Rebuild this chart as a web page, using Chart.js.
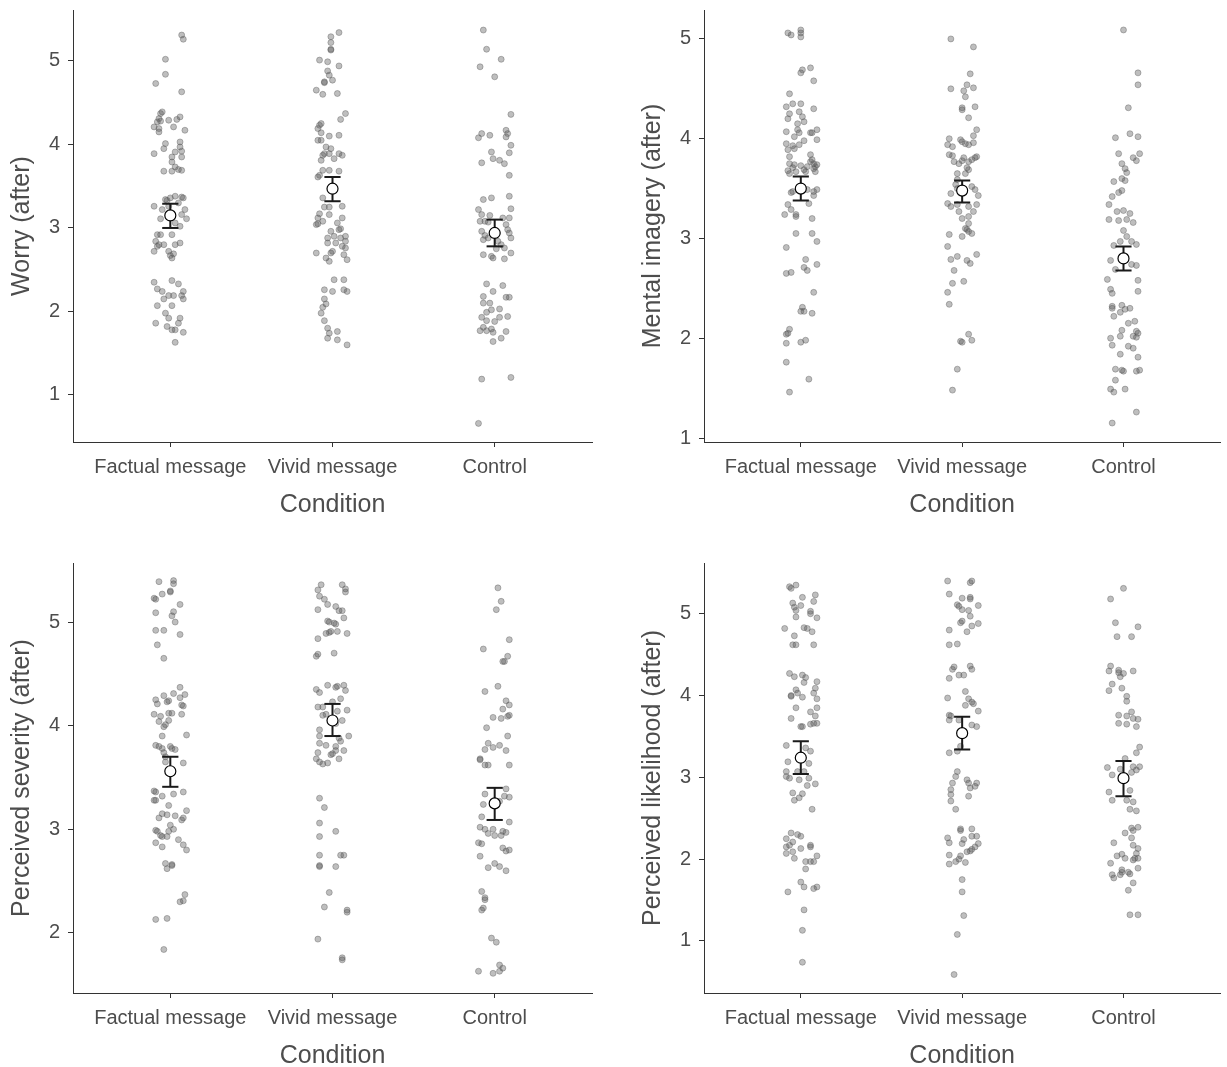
<!DOCTYPE html>
<html>
<head>
<meta charset="utf-8">
<script src="https://cdn.jsdelivr.net/npm/chart.js@4.4.1/dist/chart.umd.min.js"></script>
<style>
  html, body { margin: 0; padding: 0; background: #ffffff; overflow: hidden; width: 1227px; height: 1067px; }
  canvas { position: absolute; }
</style>
</head>
<body>
<canvas id="c1" width="613" height="540" style="left:0px;top:0px"></canvas>
<canvas id="c2" width="614" height="540" style="left:613px;top:0px"></canvas>
<canvas id="c3" width="613" height="540" style="left:0px;top:553px"></canvas>
<canvas id="c4" width="614" height="540" style="left:613px;top:553px"></canvas>
<script>
// ---------------- DATA ----------------
const categories = ['Factual message', 'Vivid message', 'Control'];
const xTitle = 'Condition';

// Panel 1: Worry (after)  -- points are [jitter, value]
const worryTicks = [1, 2, 3, 4, 5];
const worryMeans = [3.15, 3.47, 2.94];
const worryLower = [3.00, 3.32, 2.78];
const worryUpper = [3.29, 3.61, 3.10];
const worryFactual = [[0.07,5.31],[0.08,5.26],[-0.03,5.02],[-0.03,4.84],[-0.09,4.73],[0.07,4.63],
[-0.05,4.39],[-0.06,4.37],[-0.07,4.31],[-0.08,4.27],[-0.10,4.21],[-0.07,4.19],[-0.07,4.15],[-0.01,4.29],[0.04,4.30],[0.06,4.33],[0.02,4.21],[0.09,4.17],[-0.06,4.28],
[-0.03,4.01],[-0.04,3.95],[-0.10,3.89],[0.06,4.03],[0.06,3.97],[0.07,3.92],[0.03,3.91],[0.07,3.85],[0.01,3.85],[0.01,3.79],[0.03,3.73],[0.07,3.69],[-0.04,3.68],[0.01,3.68],[0.05,3.70],
[-0.10,3.26],[-0.03,3.34],[0.00,3.36],[0.03,3.38],[0.08,3.36],[0.07,3.37],[0.09,3.22],[0.10,3.11],[0.07,3.16],[-0.05,3.22],[-0.06,3.11],[0.06,3.02],[0.03,3.06],[-0.01,3.26],[0.05,3.30],[-0.02,3.33],
[-0.08,2.92],[-0.06,2.92],[-0.09,2.84],[-0.10,2.72],[-0.07,2.80],[-0.04,2.80],[0.06,2.82],[0.03,2.80],[0.01,2.92],[-0.01,2.72],[0.00,2.67],[0.01,2.64],[0.02,2.69],[-0.08,2.78],
[-0.10,2.35],[0.01,2.37],[0.05,2.33],[-0.08,2.27],[-0.05,2.24],[0.08,2.24],[-0.01,2.19],[0.02,2.19],[0.07,2.19],[0.08,2.15],[-0.04,2.15],[-0.08,2.07],[0.01,2.07],[-0.03,1.98],[-0.01,1.92],[0.06,1.92],[0.05,1.86],[-0.09,1.86],[-0.02,1.82],[0.01,1.78],[0.03,1.78],[0.08,1.75],[0.03,1.63]];
const worryVivid = [[0.04,5.34],[-0.01,5.29],[-0.01,5.22],[-0.01,5.14],[-0.01,5.13],
[-0.08,5.01],[-0.03,4.99],[0.04,4.94],[-0.03,4.88],[-0.02,4.83],[0.00,4.77],[-0.05,4.75],[-0.05,4.74],[-0.10,4.65],[-0.06,4.60],[0.03,4.61],
[0.08,4.37],[0.05,4.30],[-0.07,4.25],[-0.08,4.23],[-0.09,4.19],[-0.07,4.14],[-0.02,4.10],[0.04,4.11],[-0.09,4.05],[-0.07,4.05],[-0.04,3.97],[-0.01,3.95],[-0.05,3.89],[-0.02,3.89],[0.04,3.89],[0.06,3.87],[0.01,3.83],[-0.07,3.81],[-0.06,3.87],
[-0.06,3.69],[-0.02,3.69],[0.04,3.68],[-0.09,3.61],[-0.08,3.63],
[-0.06,3.36],[-0.02,3.25],[-0.05,3.25],[-0.02,3.16],[0.06,3.26],[-0.08,3.17],[-0.09,3.12],[-0.06,3.08],[-0.10,3.04],[-0.09,3.05],[0.03,3.06],[0.06,3.12],[0.05,2.99],[0.04,2.98],[-0.01,2.96],[-0.03,2.88],[0.01,2.90],[0.05,2.88],[0.08,2.90],[0.08,2.84],[-0.03,2.82],[0.02,2.82],[0.06,2.78],[0.08,2.76],[0.00,2.72],[-0.01,2.70],[-0.10,2.70],[-0.04,2.64],[-0.02,2.60],[0.07,2.68],[0.09,2.62],
[0.01,2.38],[0.07,2.38],[-0.05,2.26],[0.00,2.24],[0.07,2.26],[0.09,2.24],[-0.05,2.15],[-0.04,2.09],[-0.06,2.05],[-0.07,1.98],[-0.05,1.89],[-0.03,1.80],[-0.02,1.74],[-0.03,1.68],[0.03,1.76],[0.03,1.66],[0.09,1.60]];
const worryControl = [[-0.07,5.37],[-0.05,5.14],[0.04,5.02],[-0.09,4.93],[0.00,4.81],
[0.10,4.36],[-0.08,4.13],[-0.10,4.08],[-0.03,4.11],[0.07,4.17],[0.08,4.13],[0.07,4.09],[0.10,3.99],[0.09,3.90],[-0.02,3.91],[-0.01,3.83],[0.03,3.81],[0.06,3.77],[-0.08,3.78],[0.09,3.63],
[-0.07,3.34],[-0.02,3.36],[0.09,3.38],[-0.10,3.22],[0.10,3.23],[-0.08,3.16],[-0.03,3.15],[-0.09,3.08],[-0.06,3.08],[-0.04,3.07],[0.05,3.12],[0.09,3.12],[0.07,3.04],[-0.08,2.96],[-0.06,2.91],[-0.04,2.88],[-0.07,2.86],[0.08,2.98],[0.09,2.94],[0.10,2.88],[0.02,2.84],[0.04,2.80],[0.06,2.76],[-0.07,2.68],[-0.02,2.66],[-0.01,2.64],[0.06,2.63],[0.10,2.70],[0.01,2.75],
[-0.05,2.33],[0.05,2.31],[-0.01,2.24],[-0.07,2.18],[0.07,2.17],[0.09,2.17],[-0.07,2.10],[-0.03,2.10],[-0.02,2.02],[-0.05,1.99],[0.03,2.03],[-0.08,1.93],[-0.05,1.89],[0.00,1.88],[0.03,1.93],[0.08,1.94],[-0.07,1.81],[-0.09,1.77],[-0.05,1.77],[-0.02,1.79],[-0.01,1.75],[-0.01,1.64],[0.04,1.68],[0.07,1.76],
[-0.08,1.19],[0.10,1.21],[-0.10,0.66]];

// Panel 2: Mental imagery (after)
const imageryTicks = [1, 2, 3, 4, 5];
const imageryMeans = [3.50, 3.48, 2.80];
const imageryLower = [3.38, 3.36, 2.68];
const imageryUpper = [3.62, 3.58, 2.92];
const imageryFactual = [[-0.08,5.06],[-0.06,5.04],[0.00,5.09],[0.00,5.06],[0.00,5.02],
[0.01,4.69],[0.00,4.66],[0.06,4.71],[0.08,4.58],
[-0.07,4.45],[-0.09,4.32],[-0.05,4.35],[0.00,4.35],[0.08,4.30],[-0.07,4.25],[-0.08,4.20],[-0.01,4.27],[0.01,4.22],[0.02,4.17],[-0.02,4.15],[-0.09,4.07],[-0.02,4.09],[-0.01,4.06],[-0.04,4.02],[0.06,4.06],[0.07,4.06],[0.10,4.09],[0.10,3.99],[0.02,3.98],[-0.09,3.95],[-0.05,3.93],[-0.01,3.94],[-0.08,3.89],[-0.04,3.90],
[-0.07,3.82],[-0.07,3.75],[-0.04,3.74],[0.00,3.73],[0.06,3.84],[0.07,3.79],[0.08,3.75],[0.09,3.72],[0.10,3.74],[-0.08,3.68],[-0.07,3.65],[-0.03,3.67],[0.02,3.69],[0.03,3.67],[0.09,3.67],[0.08,3.70],[0.06,3.77],[-0.05,3.71],[0.04,3.72],
[-0.06,3.46],[-0.05,3.47],[0.04,3.49],[0.08,3.47],[0.10,3.49],[0.08,3.43],[-0.08,3.34],[-0.06,3.29],[-0.10,3.24],[-0.03,3.24],[-0.03,3.22],[0.05,3.35],[0.07,3.20],
[-0.03,3.05],[0.07,3.05],[0.10,2.97],[-0.09,2.91],[0.03,2.79],[0.02,2.71],[0.04,2.68],[0.10,2.74],[-0.09,2.65],[-0.06,2.66],[0.08,2.46],[0.01,2.31],[0.00,2.27],[0.02,2.27],[0.07,2.25],[-0.07,2.09],[-0.08,2.05],[-0.09,2.04],[-0.09,1.95],[0.00,1.96],[0.03,1.98],[-0.09,1.76],[0.05,1.59],[-0.07,1.46]];
const imageryVivid = [[-0.07,5.00],[0.07,4.92],
[0.05,4.65],[-0.07,4.50],[0.03,4.54],[0.07,4.51],[0.01,4.48],[0.02,4.42],[0.00,4.31],[0.00,4.29],[0.08,4.32],[0.04,4.21],
[0.09,4.09],[0.07,4.03],[-0.08,4.00],[-0.09,3.94],[-0.06,3.92],[-0.01,3.99],[0.00,3.97],[0.02,3.95],[0.04,3.94],[0.07,3.96],[-0.08,3.84],[-0.06,3.83],[-0.05,3.77],[-0.02,3.75],[0.01,3.81],[0.00,3.78],[0.04,3.77],[0.06,3.79],[0.08,3.81],[0.09,3.82],[0.03,3.71],[-0.03,3.65],[0.02,3.65],[0.04,3.69],
[-0.04,3.54],[-0.03,3.59],[-0.03,3.50],[-0.07,3.45],[-0.09,3.35],[-0.07,3.32],[-0.03,3.34],[-0.02,3.27],[0.00,3.20],[0.04,3.32],[0.06,3.52],[0.08,3.49],[0.10,3.43],[0.09,3.34],[0.07,3.27],[0.04,3.22],[0.04,3.15],[0.03,3.09],[0.04,3.07],[0.02,3.10],[0.06,3.05],[0.00,3.02],[-0.08,3.04],
[-0.09,2.92],[-0.07,2.79],[-0.03,2.82],[0.03,2.78],[0.05,2.75],[0.09,2.84],[-0.05,2.68],[-0.06,2.55],[0.01,2.57],[-0.09,2.46],[-0.08,2.34],
[0.04,2.04],[-0.01,1.97],[0.00,1.96],[0.06,1.98],[-0.03,1.69],[-0.06,1.48]];
const imageryControl = [[0.00,5.09],[0.09,4.66],[0.09,4.54],[0.03,4.31],
[-0.05,4.01],[0.04,4.05],[0.09,4.02],[-0.03,3.85],[0.10,3.85],[0.06,3.81],[0.08,3.78],[-0.01,3.75],[0.01,3.70],[0.02,3.66],[-0.06,3.57],[-0.01,3.60],[0.01,3.58],[-0.01,3.48],[-0.03,3.46],[-0.07,3.42],[-0.09,3.34],[-0.04,3.27],[0.00,3.28],[0.04,3.25],[-0.09,3.19],[-0.03,3.18],[0.02,3.19],[0.06,3.16],[0.00,3.08],
[0.02,3.02],[-0.02,2.97],[0.05,2.97],[-0.06,2.93],[0.08,2.94],[-0.08,2.78],[0.05,2.74],[0.08,2.73],[-0.05,2.69],[-0.10,2.59],[0.09,2.58],[-0.08,2.49],[-0.07,2.45],[0.09,2.47],
[-0.07,2.32],[-0.01,2.33],[-0.07,2.30],[0.01,2.29],[0.04,2.30],[-0.06,2.22],[-0.02,2.26],[0.03,2.15],[0.07,2.17],[-0.01,2.08],[0.08,2.07],[0.09,2.05],[0.06,2.02],[0.08,2.01],[-0.08,2.00],[-0.02,2.02],[-0.07,1.93],[0.03,1.92],[0.06,1.90],[-0.02,1.84],[0.09,1.81],[-0.05,1.69],[-0.01,1.68],[0.00,1.67],[0.10,1.68],[0.08,1.67],[-0.05,1.58],[-0.08,1.49],[-0.06,1.46],[0.01,1.49],[0.08,1.26],[-0.07,1.15]];

// Panel 3: Perceived severity (after)
const severityTicks = [2, 3, 4, 5];
const severityMeans = [3.56, 4.05, 3.25];
const severityLower = [3.41, 3.90, 3.09];
const severityUpper = [3.70, 4.21, 3.40];
const severityFactual = [[-0.07,5.39],[0.02,5.40],[0.02,5.37],[-0.05,5.27],[0.00,5.29],[0.00,5.30],[-0.10,5.23],[-0.09,5.22],[0.06,5.17],[-0.09,5.09],[0.02,5.10],[0.01,5.06],[0.03,5.00],[-0.09,4.92],[-0.04,4.92],[0.06,4.88],[-0.08,4.78],[-0.04,4.65],
[0.06,4.37],[0.02,4.31],[0.09,4.30],[-0.04,4.29],[-0.09,4.25],[-0.02,4.23],[-0.01,4.24],[-0.08,4.21],[0.06,4.27],[0.07,4.20],[0.08,4.19],[-0.10,4.11],[-0.06,4.09],[-0.01,4.12],[0.01,4.12],[0.07,4.11],[-0.07,4.04],[-0.01,4.05],[-0.03,4.01],[-0.04,3.99],[0.10,3.91],[-0.05,3.90],
[-0.09,3.81],[-0.07,3.80],[-0.05,3.78],[0.00,3.80],[0.01,3.78],[0.03,3.77],[-0.04,3.74],[-0.03,3.70],[-0.03,3.65],[0.08,3.64],
[-0.10,3.37],[-0.09,3.36],[-0.09,3.28],[-0.10,3.28],[-0.05,3.32],[0.02,3.34],[0.08,3.36],[-0.01,3.23],[-0.05,3.15],[-0.07,3.11],[-0.02,3.14],[0.03,3.13],[0.10,3.18],[0.08,3.11],[0.07,3.09],[0.00,3.04],[0.02,3.00],[-0.09,2.99],[-0.08,2.98],[-0.06,2.94],[-0.05,2.93],[-0.01,2.98],[-0.02,2.93],[-0.09,2.87],[-0.05,2.83],[0.05,2.90],[0.08,2.85],[0.10,2.80],
[-0.03,2.67],[-0.02,2.62],[0.01,2.66],[0.01,2.65],
[0.09,2.37],[0.06,2.30],[0.08,2.31],[-0.09,2.13],[-0.02,2.14],[-0.04,1.84]];
const severityVivid = [[-0.07,5.36],[-0.09,5.31],[0.06,5.36],[0.08,5.32],[0.08,5.29],[-0.08,5.25],[-0.05,5.22],[-0.03,5.17],[-0.09,5.12],[0.02,5.15],[0.04,5.11],[0.06,5.11],[0.07,5.04],[-0.03,5.01],[-0.02,5.00],[0.01,4.99],[0.02,4.98],[-0.04,4.89],[-0.02,4.90],[-0.01,4.91],[0.03,4.91],[0.09,4.89],[-0.09,4.84],[-0.10,4.67],[-0.09,4.69],[0.01,4.70],
[-0.10,4.35],[-0.08,4.32],[-0.03,4.39],[0.02,4.37],[0.03,4.38],[0.07,4.39],[0.08,4.34],[0.05,4.26],[0.00,4.23],[-0.09,4.18],[-0.06,4.18],[-0.06,4.10],[-0.04,4.11],[0.03,4.14],[0.09,4.15],[0.06,4.05],[-0.08,3.96],[-0.08,3.90],[0.02,4.02],[0.10,3.90],[0.04,3.88],[0.05,3.85],[-0.08,3.83],[-0.04,3.81],[0.02,3.80],[0.02,3.76],[-0.01,3.72],[0.00,3.73],[0.07,3.76],[-0.09,3.74],[-0.10,3.68],[-0.08,3.65],[-0.06,3.63],[-0.03,3.64],[0.04,3.68],
[-0.08,3.30],[-0.05,3.21],[-0.08,3.06],[-0.08,2.93],[0.02,2.98],[-0.08,2.75],[0.05,2.75],[0.07,2.75],[-0.08,2.64],[-0.08,2.65],[0.02,2.64],[-0.02,2.39],[-0.05,2.25],[0.09,2.22],[0.09,2.20],[-0.09,1.94],[0.06,1.76],[0.06,1.74]];
const severityControl = [[0.02,5.33],[0.04,5.20],[0.01,5.12],
[0.09,4.83],[-0.07,4.74],[0.08,4.67],[0.05,4.62],[0.06,4.62],
[-0.06,4.33],[0.02,4.38],[0.07,4.24],[0.09,4.20],[0.05,4.16],[0.09,4.10],[-0.01,4.08],[0.04,4.07],[0.08,4.09],[-0.05,3.98],[0.08,3.90],[-0.04,3.83],[-0.06,3.77],[-0.01,3.79],[0.03,3.81],[0.07,3.76],[-0.09,3.68],[-0.09,3.67],[-0.06,3.62],[-0.04,3.62],[0.09,3.62],
[0.07,3.39],[-0.06,3.34],[-0.07,3.24],[0.09,3.31],[0.06,3.32],[0.03,3.27],[-0.08,3.12],[0.09,3.07],[-0.09,3.02],[-0.06,3.00],[-0.04,2.96],[-0.01,3.00],[0.00,2.94],[0.04,2.94],[0.05,2.98],[0.07,2.97],[-0.10,2.87],[-0.08,2.86],[0.05,2.82],[0.07,2.79],[0.09,2.80],[-0.09,2.74],[-0.04,2.63],[0.00,2.67],[0.03,2.64],[0.07,2.60],
[-0.08,2.40],[-0.06,2.34],[-0.06,2.32],[-0.08,2.22],[-0.07,2.24],[-0.02,1.95],[0.01,1.91],[-0.10,1.63],[-0.01,1.61],[0.03,1.63],[0.05,1.66],[0.03,1.69]];

// Panel 4: Perceived likelihood (after)
const likelihoodTicks = [1, 2, 3, 4, 5];
const likelihoodMeans = [3.24, 3.54, 2.99];
const likelihoodLower = [3.04, 3.34, 2.77];
const likelihoodUpper = [3.44, 3.74, 3.20];
const likelihoodFactual = [[-0.07,5.33],[-0.06,5.31],[-0.03,5.35],[0.01,5.20],[0.09,5.23],[0.08,5.15],[-0.05,5.13],[0.00,5.10],[-0.04,5.08],[-0.03,5.04],[0.06,5.03],[0.06,5.00],[0.10,4.95],[-0.03,4.96],[0.02,4.83],[0.04,4.82],[0.07,4.78],[-0.10,4.82],[-0.04,4.73],[-0.05,4.62],[-0.03,4.62],[0.08,4.62],
[-0.07,4.27],[-0.04,4.23],[0.01,4.25],[0.03,4.22],[0.02,4.16],[0.10,4.17],[0.09,4.09],[-0.03,4.07],[-0.06,3.99],[-0.06,4.00],[-0.02,4.03],[0.01,3.98],[0.08,4.03],[0.10,3.96],[-0.03,3.85],[0.10,3.85],[0.06,3.80],[0.09,3.75],[-0.06,3.72],[0.10,3.66],[0.00,3.62],[0.01,3.62],[0.06,3.65],[0.08,3.66],
[-0.09,3.39],[0.03,3.36],[0.06,3.32],[-0.08,3.19],[0.05,3.17],[-0.09,3.07],[-0.09,3.01],[-0.07,2.99],[-0.02,3.07],[-0.01,2.97],[0.02,3.07],[0.05,2.99],[0.04,2.90],[0.09,2.92],[-0.05,2.81],[0.01,2.80],[-0.04,2.72],[-0.01,2.75],[0.07,2.61],
[-0.09,2.25],[-0.06,2.32],[-0.02,2.30],[0.00,2.28],[-0.05,2.21],[-0.09,2.15],[-0.07,2.17],[-0.05,2.09],[-0.09,2.07],[0.00,2.13],[0.06,2.17],[0.06,2.15],[0.10,2.04],[0.03,1.97],[0.06,1.97],[0.08,1.97],[-0.04,2.01],[0.03,1.88],[0.00,1.72],[0.02,1.66],[0.08,1.64],[0.10,1.66],[-0.08,1.60],[0.02,1.38],[0.01,1.13],[0.01,0.74]];
const likelihoodVivid = [[-0.09,5.40],[0.05,5.38],[0.06,5.40],[-0.08,5.24],[0.00,5.19],[0.05,5.20],[0.05,5.18],[0.10,5.10],[-0.03,5.11],[-0.02,5.09],[0.00,5.05],[0.04,5.04],[0.05,4.97],[-0.01,4.89],[0.00,4.91],[0.06,4.85],[0.10,4.88],[-0.08,4.80],[0.03,4.78],[-0.08,4.62],[-0.03,4.63],
[-0.05,4.35],[-0.06,4.32],[-0.08,4.21],[-0.02,4.25],[0.01,4.25],[0.05,4.36],[0.06,4.32],[0.02,4.05],[-0.09,3.97],[0.04,3.96],[0.06,3.92],[0.07,3.90],[0.02,3.88],[0.10,3.81],[-0.08,3.76],[-0.07,3.75],[-0.08,3.70],[-0.02,3.70],[0.06,3.64],[0.09,3.62],
[-0.08,3.30],[-0.03,3.32],[-0.01,3.38],[-0.03,3.07],[-0.04,3.01],[-0.06,2.93],[-0.07,2.85],[-0.07,2.79],[-0.07,2.71],[-0.04,2.61],[0.03,2.97],[0.04,2.93],[0.05,2.87],[0.08,2.89],[0.09,2.93],[0.04,2.77],
[-0.01,2.37],[-0.01,2.35],[0.06,2.37],[-0.09,2.26],[-0.08,2.20],[0.01,2.24],[0.00,2.19],[0.06,2.28],[0.09,2.28],[0.10,2.19],[0.08,2.15],[0.06,2.12],[0.05,2.10],[0.03,2.09],[-0.08,2.05],[-0.01,2.04],[-0.02,2.00],[-0.04,1.97],[-0.08,1.94],[0.02,1.96],
[0.00,1.75],[0.00,1.60],[0.01,1.31],[-0.03,1.08],[-0.05,0.59]];
const likelihoodControl = [[0.00,5.31],[-0.08,5.18],[-0.05,4.89],[0.09,4.84],[-0.04,4.72],[0.05,4.72],
[-0.08,4.36],[-0.09,4.30],[-0.03,4.31],[-0.03,4.28],[-0.02,4.23],[0.00,4.27],[0.06,4.30],[-0.07,4.14],[-0.09,4.06],[-0.01,4.09],[0.02,3.99],[0.02,3.93],[-0.03,3.76],[0.05,3.80],[0.02,3.75],[0.06,3.72],[0.09,3.71],[-0.03,3.66],[0.02,3.65],[0.08,3.62],
[0.10,3.37],[0.08,3.30],[0.01,3.23],[-0.10,3.12],[-0.07,3.03],[-0.02,3.10],[0.06,3.13],[0.08,3.09],[0.10,3.13],[0.05,3.06],[-0.09,2.82],[-0.07,2.72],[0.04,2.84],[0.02,2.72],[0.06,2.70],[0.04,2.61],[0.08,2.59],
[0.09,2.39],[0.05,2.38],[0.06,2.35],[0.01,2.32],[-0.06,2.20],[0.05,2.26],[0.06,2.17],[0.09,2.13],[0.08,2.07],[-0.01,2.06],[-0.04,2.04],[0.01,2.01],[0.07,2.01],[0.09,2.01],[0.06,1.99],[-0.08,1.95],[0.09,1.89],[-0.01,1.87],[-0.01,1.84],[0.03,1.84],[-0.07,1.81],[-0.06,1.77],[-0.02,1.81],[0.04,1.82],[0.06,1.71],[0.03,1.62],[0.04,1.32],[0.09,1.32]];

// ---------------- RENDER ----------------
const FONT = "'Liberation Sans', Arial, Helvetica, sans-serif";
const TEXT = '#4d4d4d';
const AXIS = '#333333';
const CAP = 0.05;

function buildDatasets(groups, means, lower, upper) {
  const ds = [];
  ds.push({
    data: means.map((m, i) => ({x: i + 1, y: m})),
    pointRadius: 5.5, pointBackgroundColor: '#ffffff', pointBorderColor: '#000000',
    pointBorderWidth: 1.2, showLine: false, order: 0
  });
  means.forEach((m, i) => {
    const segs = [
      [{x: i + 1, y: lower[i]}, {x: i + 1, y: upper[i]}],
      [{x: i + 1 - CAP, y: lower[i]}, {x: i + 1 + CAP, y: lower[i]}],
      [{x: i + 1 - CAP, y: upper[i]}, {x: i + 1 + CAP, y: upper[i]}]
    ];
    segs.forEach(s => ds.push({
      type: 'line', data: s, borderColor: '#1a1a1a', borderWidth: 2,
      pointRadius: 0, fill: false, tension: 0, order: 1, borderCapStyle: 'butt'
    }));
  });
  groups.forEach((g, i) => {
    ds.push({
      data: g.map(([j, v]) => ({x: i + 1 + j, y: v})),
      pointRadius: 3, pointBorderWidth: 1,
      pointBackgroundColor: 'rgba(85,85,85,0.38)', pointBorderColor: 'rgba(85,85,85,0.38)',
      showLine: false, order: 2
    });
  });
  return ds;
}

function makeChart(id, p) {
  new Chart(document.getElementById(id), {
    type: 'scatter',
    data: {datasets: buildDatasets(p.groups, p.means, p.lower, p.upper)},
    options: {
      responsive: false, animation: false, devicePixelRatio: 1, events: [],
      layout: {padding: {left: p.padLeft, right: p.padRight, top: 10, bottom: p.padBottom}},
      plugins: {legend: {display: false}, tooltip: {enabled: false}},
      scales: {
        x: {
          type: 'linear', min: 0.4, max: 3.6,
          afterBuildTicks: s => { s.ticks = categories.map((c, i) => ({value: i + 1})); },
          afterFit: s => { s.height = 98; s.paddingLeft = 0; s.paddingRight = 0; },
          ticks: {
            callback: v => categories[Math.round(v) - 1],
            font: {family: FONT, size: 20}, color: TEXT, padding: 8,
            maxRotation: 0, autoSkip: false
          },
          grid: {display: true, drawOnChartArea: false, drawTicks: true, tickLength: 5, color: AXIS, lineWidth: 1},
          border: {display: true, color: AXIS, width: 1},
          title: {display: true, text: xTitle, font: {family: FONT, size: 25}, color: TEXT, padding: {top: 0, bottom: 20}}
        },
        y: {
          type: 'linear', min: p.yMin, max: p.yMax,
          afterBuildTicks: s => { s.ticks = p.yTicks.map(v => ({value: v})); },
          afterFit: s => { s.width = 73; s.paddingTop = 0; s.paddingBottom = 0; },
          ticks: {font: {family: FONT, size: 20}, color: TEXT, padding: 8},
          grid: {display: true, drawOnChartArea: false, drawTicks: true, tickLength: 5, color: AXIS, lineWidth: 1},
          border: {display: true, color: AXIS, width: 1},
          title: {display: true, text: p.yTitle, font: {family: FONT, size: 25}, color: TEXT, padding: {top: 7, bottom: 0}}
        }
      }
    }
  });
}

makeChart('c1', {groups: [worryFactual, worryVivid, worryControl], means: worryMeans, lower: worryLower, upper: worryUpper,
  yTicks: worryTicks, yMin: 0.437, yMax: 5.61, yTitle: 'Worry (after)', padLeft: 0, padRight: 21, padBottom: 0});
makeChart('c2', {groups: [imageryFactual, imageryVivid, imageryControl], means: imageryMeans, lower: imageryLower, upper: imageryUpper,
  yTicks: imageryTicks, yMin: 0.96, yMax: 5.29, yTitle: 'Mental imagery (after)', padLeft: 18, padRight: 6, padBottom: 0});
makeChart('c3', {groups: [severityFactual, severityVivid, severityControl], means: severityMeans, lower: severityLower, upper: severityUpper,
  yTicks: severityTicks, yMin: 1.42, yMax: 5.57, yTitle: 'Perceived severity (after)', padLeft: 0, padRight: 21, padBottom: 2});
makeChart('c4', {groups: [likelihoodFactual, likelihoodVivid, likelihoodControl], means: likelihoodMeans, lower: likelihoodLower, upper: likelihoodUpper,
  yTicks: likelihoodTicks, yMin: 0.364, yMax: 5.62, yTitle: 'Perceived likelihood (after)', padLeft: 18, padRight: 6, padBottom: 2});
</script>
</body>
</html>
